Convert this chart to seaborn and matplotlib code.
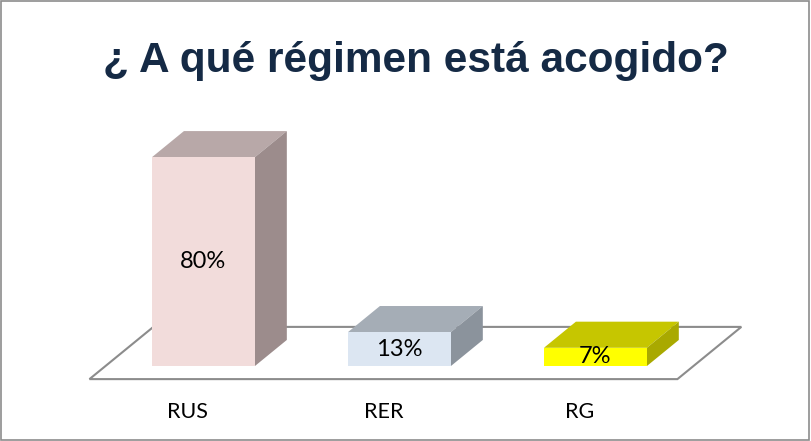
"""
Excel-style 3D column chart: regime distribution (RUS / RER / RG).
"""
import numpy as np
import pandas as pd
import seaborn as sns
import matplotlib.pyplot as plt
from matplotlib.patches import Polygon, Rectangle

categories = ['RUS', 'RER', 'RG']
values = [80, 13, 7]
value_labels = ['80%', '13%', '7%']

front_colors = ['#f2dcdb', '#dce6f2', '#ffff00']
top_colors = ['#b8a8a8', '#a5adb6', '#c6c600']
side_colors = ['#9c8c8c', '#8b939c', '#a9a900']

# fake depth offset for the 3D look (x in category units, y in value units)
DX = 0.163
DY = 10.0
BAR_WIDTH = 0.525


def plot_chart():
    sns.set_style('white')
    plt.rcParams['font.family'] = ['Lato', 'DejaVu Sans']

    fig = plt.figure(figsize=(8.11, 4.41), dpi=100)
    ax = fig.add_axes([0, 0, 1, 1])

    df = pd.DataFrame({'cat': categories, 'val': values})

    # floor of the 3D plot
    n = len(categories)
    lo, hi = -0.5, n - 0.5
    floor = Polygon([(lo - 0.5 * DX, -0.5 * DY), (hi - 0.5 * DX, -0.5 * DY),
                     (hi + 1.5 * DX, 1.5 * DY), (lo + 1.5 * DX, 1.5 * DY)],
                    closed=True, facecolor='white', edgecolor='#8c8c8c',
                    linewidth=1.5, zorder=1)
    ax.add_patch(floor)

    sns.barplot(data=df, x='cat', y='val', hue='cat', palette=front_colors,
                saturation=1, width=BAR_WIDTH, legend=False, linewidth=0,
                ax=ax, zorder=3)

    # add top and side faces
    bars = [p for p in ax.patches if p is not floor]
    for i, p in enumerate(bars):
        x0 = p.get_x()
        w = p.get_width()
        h = p.get_height()
        x1 = x0 + w
        top = Polygon([(x0, h), (x1, h), (x1 + DX, h + DY), (x0 + DX, h + DY)],
                      closed=True, facecolor=top_colors[i], linewidth=0,
                      zorder=2.9)
        side = Polygon([(x1, 0), (x1 + DX, DY), (x1 + DX, h + DY), (x1, h)],
                       closed=True, facecolor=side_colors[i], linewidth=0,
                       zorder=2.9)
        ax.add_patch(top)
        ax.add_patch(side)
        ax.text(x0 + w / 2, h / 2, value_labels[i], ha='center', va='center',
                fontsize=17, color='black', zorder=5)

    # category labels along the front of the floor
    for i, cat in enumerate(categories):
        ax.text(i - 0.5 * DX, -17.6, cat, ha='center', va='center',
                fontsize=15.5, color='black')

    ax.set_xlim(-1.038, 3.10)
    ax.set_ylim(-28.7, 140.2)
    ax.axis('off')

    fig.text(0.513, 1 - 72 / 441, '¿ A qué régimen está acogido?',
             ha='center', va='baseline', fontsize=30.5, fontweight='bold',
             color='#152a45', family=['Liberation Sans', 'DejaVu Sans'])

    fig.patches.append(Rectangle((0.001, 0.002), 0.997, 0.995,
                                 transform=fig.transFigure, fill=False,
                                 edgecolor='#8c8c8c', linewidth=1.2))

    plt.savefig('out.png', dpi=100)


if __name__ == '__main__':
    plot_chart()
